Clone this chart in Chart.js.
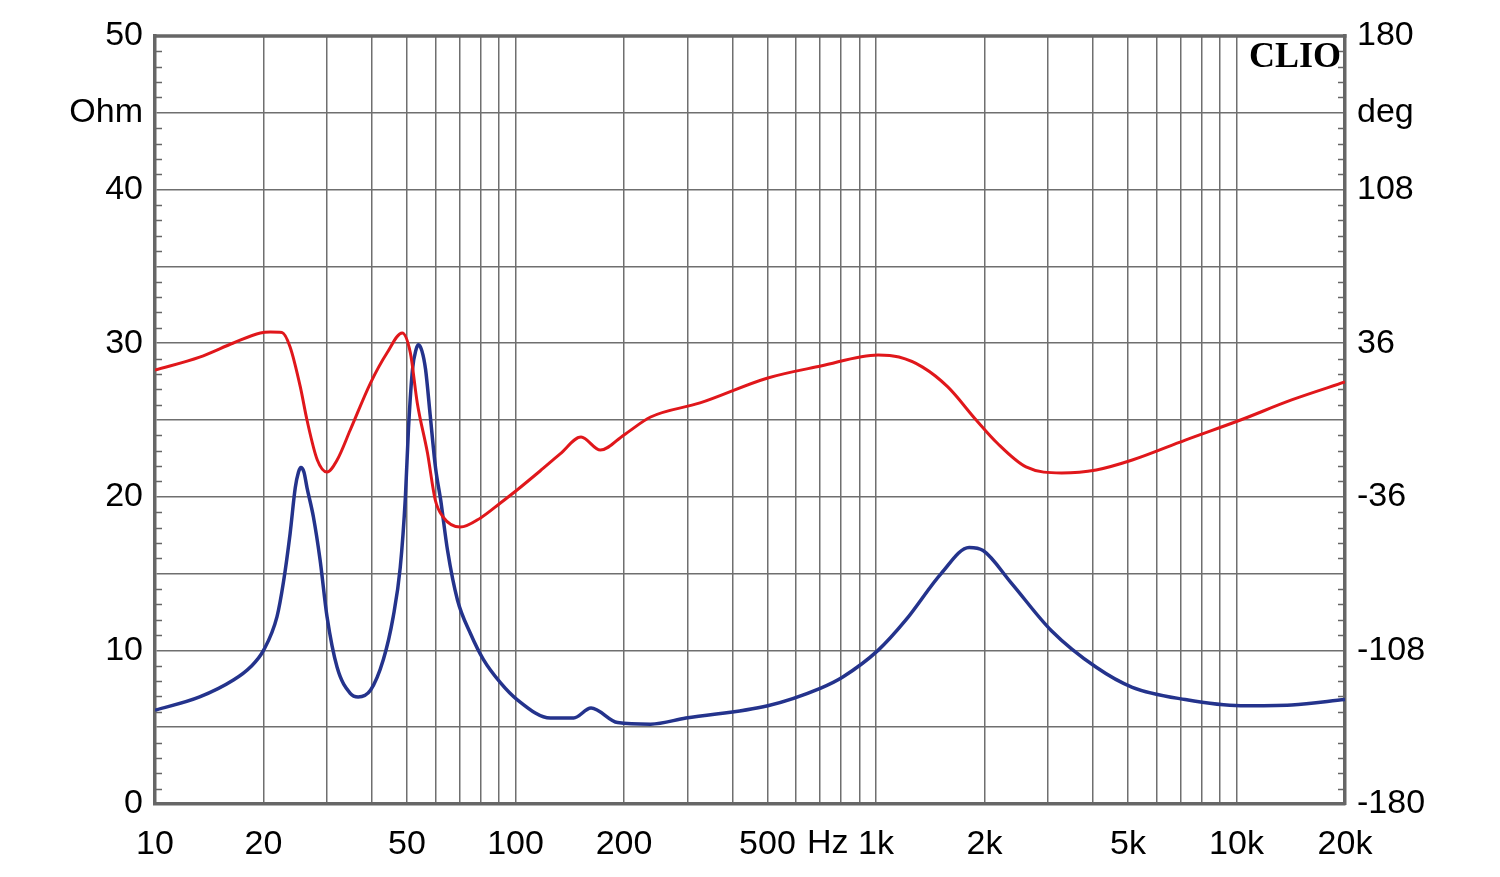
<!DOCTYPE html>
<html>
<head>
<meta charset="utf-8">
<script src="https://cdn.jsdelivr.net/npm/chart.js@4/dist/chart.umd.min.js"></script>
<style>
html,body{margin:0;padding:0;background:#fff;}
#wrap{width:1500px;height:877px;}
</style>
</head>
<body>
<div id="wrap"><canvas id="c" width="1500" height="877"></canvas></div>
<script>
// Impedance magnitude (Ohm, left axis)
const impFreq = [10,13.3,16.5,18.4,20,21.8,22.7,23.7,24.5,25.0,25.4,25.9,26.4,27.5,28.7,30,32,34.8,36.6,39.6,43,45.8,47.9,49.5,50.5,51.8,53.0,53.8,55.0,56.3,58.0,60.0,62,64.8,69,75,81.5,90.8,101,125,145,162,192,237,297,501,703,809,1013,1212,1516,1813,1982,2371,3062,4083,5140,7211,10260,14220,20000];
const impOhm  = [6.1,6.97,8.07,8.92,10.0,12.2,14.4,17.6,20.6,21.6,21.9,21.6,20.6,18.7,15.9,12.2,8.9,7.2,6.97,7.4,9.4,12.2,15.4,20.0,24.5,28.3,29.6,29.9,29.5,28.3,25.3,21.9,19.8,16.5,13.3,11.1,9.4,7.9,6.8,5.6,5.6,6.25,5.3,5.2,5.6,6.4,7.55,8.27,10.0,12.0,15.0,16.7,16.5,14.4,11.3,8.9,7.6,6.8,6.4,6.45,6.8];

// Impedance phase (deg, right axis)
const phaseFreq = [10,13.3,16.5,19.6,20.9,22.5,23.7,25.3,26.4,28.2,30,32,34.8,39.6,44.0,48.5,51.1,53.4,57.0,59.9,63,70.3,80,90.8,101,117,133,152,172,200,237,325,501,703,1013,1158,1347,1582,1896,2168,2607,3272,4083,5140,7211,10260,14220,20000];
const phaseDeg  = [23.4,29.5,36.1,40.8,41.2,41.0,34.2,15.5,0,-18.75,-24.4,-18.75,-4.7,17.3,31.4,40.8,31.4,8.0,-15.5,-37.5,-45.5,-50.2,-45.9,-38.9,-32.8,-23.9,-15.9,-8,-14.1,-7,1.4,8,19.7,25.3,30.5,29.5,24.8,15.5,0,-10.8,-22,-24.8,-23.4,-18.75,-9.4,0,9.4,17.8];

// Axis ticks / labels
const xGridFreqs = [10,20,30,40,50,60,70,80,90,100,200,300,400,500,600,700,800,900,1000,2000,3000,4000,5000,6000,7000,8000,9000,10000,20000];
const xTickLabels = {10:'10',20:'20',50:'50',100:'100',200:'200',500:'500',1000:'1k',2000:'2k',5000:'5k',10000:'10k',20000:'20k'};
const ohmTickLabels = {0:'0',10:'10',20:'20',30:'30',40:'40',45:'Ohm',50:'50'};
const degTickLabels = {'-180':'-180','-108':'-108','-36':'-36','36':'36','108':'108','144':'deg','180':'180'};

const FONT = 'Liberation Sans, Arial, sans-serif';
const FSIZE = 34;
const GRID = '#6f6f6f';
const FRAME = '#666666';

const extrasPlugin = {
  id: 'extras',
  afterDraw(chart) {
    const ctx = chart.ctx;
    const y = chart.scales.y, x = chart.scales.x;
    const ca = chart.chartArea;
    ctx.save();
    // minor ticks every 1 Ohm on both vertical borders
    ctx.strokeStyle = FRAME;
    ctx.lineWidth = 1.5;
    for (let v = 0; v <= 50; v++) {
      if (v % 5 === 0) continue;
      const py = Math.round(y.getPixelForValue(v)) + 0.5;
      ctx.beginPath(); ctx.moveTo(ca.left, py); ctx.lineTo(ca.left + 7, py); ctx.stroke();
      ctx.beginPath(); ctx.moveTo(ca.right, py); ctx.lineTo(ca.right - 7, py); ctx.stroke();
    }
    // top frame
    ctx.strokeStyle = FRAME;
    ctx.lineWidth = 3.5;
    ctx.beginPath(); ctx.moveTo(ca.left - 1.5, ca.top); ctx.lineTo(ca.right + 1.5, ca.top); ctx.stroke();
    // "Hz" label between 500 and 1k
    const p500 = x.getPixelForValue(500), p1k = x.getPixelForValue(1000);
    ctx.fillStyle = '#000';
    ctx.font = FSIZE + 'px ' + FONT;
    ctx.textAlign = 'center';
    ctx.textBaseline = 'middle';
    ctx.fillText('Hz', (p500 + p1k) / 2 + 6, ca.bottom + 40);
    // CLIO watermark
    ctx.font = 'bold 36px "Liberation Serif", "Times New Roman", serif';
    ctx.textAlign = 'right';
    ctx.textBaseline = 'alphabetic';
    ctx.fillText('CLIO', ca.right - 4, ca.top + 31);
    ctx.restore();
  }
};

new Chart(document.getElementById('c'), {
  type: 'line',
  data: {
    datasets: [
      {
        label: 'Phase',
        data: phaseFreq.map((f, i) => ({x: f, y: phaseDeg[i]})),
        yAxisID: 'y2',
        borderColor: '#e0171b',
        borderWidth: 3,
        pointRadius: 0,
        cubicInterpolationMode: 'monotone',
        fill: false
      },
      {
        label: 'Impedance',
        data: impFreq.map((f, i) => ({x: f, y: impOhm[i]})),
        yAxisID: 'y',
        borderColor: '#24338c',
        borderWidth: 3.5,
        pointRadius: 0,
        cubicInterpolationMode: 'monotone',
        fill: false
      }
    ]
  },
  options: {
    responsive: false,
    devicePixelRatio: 1,
    animation: false,
    events: [],
    layout: {padding: {top: 36, left: 0, right: 0, bottom: 0}},
    plugins: {legend: {display: false}, tooltip: {enabled: false}},
    scales: {
      x: {
        type: 'logarithmic',
        min: 10, max: 20000,
        afterBuildTicks(s) { s.ticks = xGridFreqs.map(v => ({value: v})); },
        afterFit(s) { s.height = 73; },
        ticks: {
          autoSkip: false, maxRotation: 0, padding: 20,
          color: '#000', font: {family: FONT, size: FSIZE},
          callback(v) { return xTickLabels[v] || ''; }
        },
        grid: {color: GRID, lineWidth: 1.5, drawTicks: false},
        border: {color: FRAME, width: 3.5}
      },
      y: {
        position: 'left',
        min: 0, max: 50,
        afterBuildTicks(s) { const t = []; for (let v = 0; v <= 50; v += 5) t.push({value: v}); s.ticks = t; },
        afterFit(s) { s.width = 155; },
        ticks: {
          padding: 12, color: '#000', font: {family: FONT, size: FSIZE},
          callback(v) { return ohmTickLabels[v] || ''; }
        },
        grid: {color: GRID, lineWidth: 1.5, drawTicks: false},
        border: {color: FRAME, width: 3.5}
      },
      y2: {
        position: 'right',
        min: -180, max: 180,
        afterBuildTicks(s) { const t = []; for (let v = -180; v <= 180; v += 36) t.push({value: v}); s.ticks = t; },
        afterFit(s) { s.width = 155; },
        ticks: {
          padding: 12, color: '#000', font: {family: FONT, size: FSIZE},
          callback(v) { return degTickLabels[String(v)] || ''; }
        },
        grid: {drawOnChartArea: false, drawTicks: false},
        border: {color: FRAME, width: 3.5}
      }
    }
  },
  plugins: [extrasPlugin]
});
</script>
</body>
</html>
